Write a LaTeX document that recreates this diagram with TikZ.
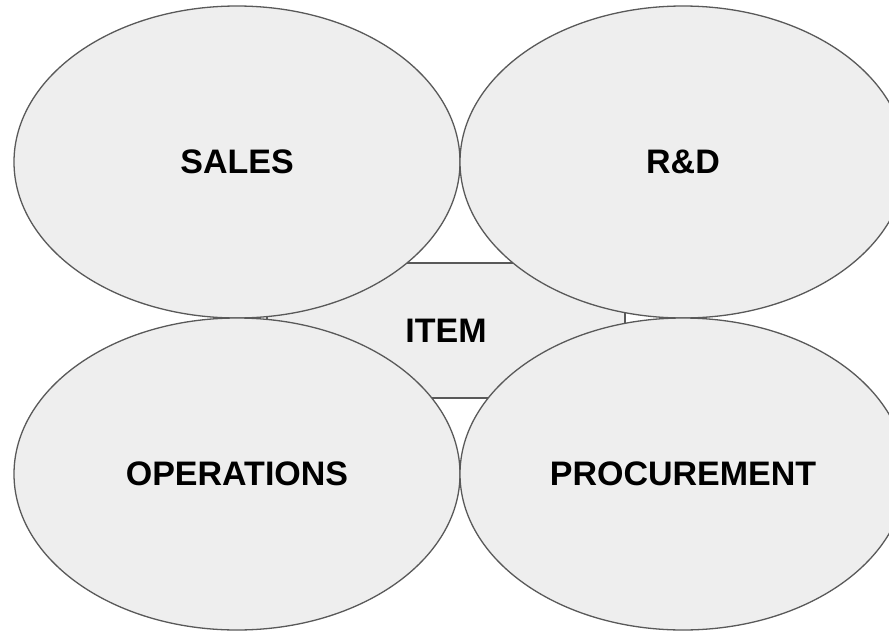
\documentclass[tikz,border=0pt]{standalone}
\usepackage{fontspec}
\setmainfont{Liberation Sans}
\usetikzlibrary{shapes.geometric}
\usetikzlibrary{positioning}

\definecolor{areafill}{HTML}{EEEEEE}
\definecolor{areadraw}{HTML}{595959}

\tikzset{
  area/.style={ellipse, draw=areadraw, fill=areafill, line width=1.3pt,
    minimum width=446pt, minimum height=312pt, inner sep=0pt, outer sep=0pt,
    font=\fontsize{34}{40}\selectfont\bfseries},
  core/.style={rectangle, draw=areadraw, fill=areafill, line width=1.3pt,
    minimum width=358pt, minimum height=135pt, inner sep=0pt, outer sep=0pt,
    font=\fontsize{34}{40}\selectfont\bfseries}
}

\begin{document}
\begin{tikzpicture}[x=1pt, y=-1pt]
      \useasboundingbox (0,0) rectangle (889,632);
      \clip (0,0) rectangle (889,632);

      \node[core]                  (item)  at (446,330.5) {ITEM};
      \node[area]                  (sales) at (237,162)   {SALES};
      \node[area, right=0pt of sales] (rnd)  {R\&D};
      \node[area, below=0pt of sales] (ops)  {OPERATIONS};
      \node[area, below=0pt of rnd]   (proc) {PROCUREMENT};
    \end{tikzpicture}
\end{document}
